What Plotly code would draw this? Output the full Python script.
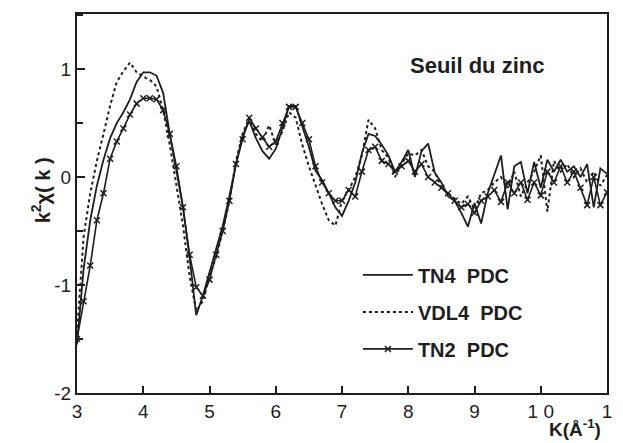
import plotly.graph_objects as go

# k grid (Å^-1)
K = [3.0, 3.1, 3.2, 3.3, 3.4, 3.5, 3.6, 3.7, 3.8, 3.9,
     4.0, 4.1, 4.2, 4.3, 4.4, 4.5, 4.6, 4.7, 4.8, 4.9,
     5.0, 5.1, 5.2, 5.3, 5.4, 5.5, 5.6, 5.7, 5.8, 5.9,
     6.0, 6.1, 6.2, 6.3, 6.4, 6.5, 6.6, 6.7, 6.8, 6.9,
     7.0, 7.1, 7.2, 7.3, 7.4, 7.5, 7.6, 7.7, 7.8, 7.9,
     8.0, 8.1, 8.2, 8.3, 8.4, 8.5, 8.6, 8.7, 8.8, 8.9,
     9.0, 9.1, 9.2, 9.3, 9.4, 9.5, 9.6, 9.7, 9.8, 9.9,
     10.0, 10.1, 10.2, 10.3, 10.4, 10.5, 10.6, 10.7, 10.8, 10.9,
     11.0]

TN4 = [-1.55, -0.85, -0.40, -0.08, 0.16, 0.36, 0.50, 0.60, 0.72, 0.88,
       0.97, 0.97, 0.94, 0.78, 0.40, 0.05, -0.28, -0.75, -1.28, -1.10,
       -0.88, -0.68, -0.45, -0.18, 0.12, 0.38, 0.52, 0.36, 0.24, 0.17,
       0.26, 0.45, 0.66, 0.66, 0.48, 0.28, 0.06, -0.03, -0.15, -0.28,
       -0.36, -0.22, -0.05, 0.22, 0.40, 0.38, 0.30, 0.20, 0.05, 0.14,
       0.25, 0.00, 0.24, 0.31, 0.04, -0.05, -0.18, -0.22, -0.33, -0.46,
       -0.24, -0.43, -0.15, 0.02, 0.20, -0.30, 0.10, 0.14, -0.15, 0.14,
       -0.10, 0.16, 0.05, 0.16, 0.05, 0.10, 0.00, 0.12, -0.28, 0.08,
       0.03]

VDL4 = [-1.45, -0.55, -0.15, 0.15, 0.40, 0.66, 0.88, 0.98, 1.06, 0.97,
        0.93, 0.90, 0.84, 0.62, 0.30, -0.06, -0.45, -0.92, -1.24, -1.15,
        -0.92, -0.74, -0.50, -0.22, 0.15, 0.40, 0.55, 0.40, 0.33, 0.48,
        0.30, 0.42, 0.60, 0.55, 0.30, 0.10, -0.08, -0.25, -0.40, -0.45,
        -0.22, -0.12, 0.00, 0.20, 0.53, 0.45, 0.25, 0.18, 0.00, 0.12,
        0.22, 0.20, 0.25, 0.10, 0.05, -0.10, -0.15, -0.20, -0.25, -0.18,
        -0.30, -0.15, -0.12, -0.05, 0.00, -0.10, 0.05, -0.18, -0.05, 0.05,
        0.20, -0.32, 0.15, 0.05, 0.12, 0.00, 0.08, -0.05, 0.05, -0.08,
        0.02]

TN2 = [-1.50, -1.15, -0.82, -0.40, -0.15, 0.17, 0.33, 0.45, 0.58, 0.68,
       0.73, 0.73, 0.72, 0.62, 0.40, 0.10, -0.28, -0.72, -1.02, -1.10,
       -0.95, -0.72, -0.50, -0.22, 0.12, 0.35, 0.55, 0.45, 0.37, 0.28,
       0.33, 0.50, 0.65, 0.65, 0.50, 0.35, 0.10, -0.05, -0.15, -0.22,
       -0.22, -0.12, -0.18, 0.05, 0.25, 0.28, 0.15, 0.12, 0.05, 0.10,
       0.15, 0.05, 0.12, 0.00, -0.05, -0.10, -0.15, -0.22, -0.28, -0.25,
       -0.33, -0.22, -0.18, -0.12, -0.23, -0.05, -0.15, -0.05, -0.21, -0.05,
       -0.17, 0.05, -0.05, 0.10, -0.05, 0.05, -0.10, -0.26, 0.00, -0.26,
       -0.14]

X_TICKS = [3, 4, 5, 6, 7, 8, 9, 10, 11]
X_TICKTEXT = ["3", "4", "5", "6", "7", "8", "9", "1 0", "1"]
Y_TICKS = [-2, -1, 0, 1]
Y_TICKTEXT = ["-2", "-1", "0", "1"]

INK = "#1e1e1e"
FONT = "Liberation Sans, Arial, sans-serif"

fig = go.Figure()
fig.add_trace(go.Scatter(x=K, y=TN4, mode="lines", name="TN4  PDC",
                         legendgroup="a",
                         line=dict(color=INK, width=1.8)))
fig.add_trace(go.Scatter(x=K, y=VDL4, mode="lines", name="VDL4  PDC",
                         legendgroup="b",
                         line=dict(color=INK, width=2, dash="dot")))
fig.add_trace(go.Scatter(x=K, y=TN2, mode="lines+markers", name="TN2  PDC",
                         legendgroup="c",
                         line=dict(color=INK, width=1.6),
                         marker=dict(symbol="x-thin", size=6, color=INK,
                                     line=dict(color=INK, width=1.5))))

fig.update_layout(
    width=623, height=443,
    margin=dict(l=77, r=11, t=14, b=50),
    paper_bgcolor="white", plot_bgcolor="white",
    font=dict(family=FONT, color=INK),
    showlegend=True,
    legend=dict(x=0.53, y=0.363, xanchor="left", yanchor="top",
                bgcolor="rgba(0,0,0,0)", borderwidth=0,
                font=dict(family=FONT, size=20, color=INK, weight="bold"),
                tracegroupgap=8, itemwidth=50),
    xaxis=dict(range=[3, 11], tickmode="array", tickvals=X_TICKS,
               ticktext=X_TICKTEXT, ticks="inside", ticklen=7, tickwidth=2,
               tickcolor=INK, showline=True, linewidth=2, linecolor=INK,
               mirror=True, showgrid=False, zeroline=False,
               tickfont=dict(size=19, family=FONT, color=INK)),
    yaxis=dict(range=[-2, 1.51], tickmode="array", tickvals=Y_TICKS,
               ticktext=Y_TICKTEXT, ticks="inside", ticklen=8, tickwidth=2,
               tickcolor=INK, showline=True, linewidth=2, linecolor=INK,
               mirror=True, showgrid=False, zeroline=False,
               tickfont=dict(size=19, family=FONT, color=INK),
               minor=dict(dtick=0.5, tick0=0, ticks="inside", ticklen=6,
                          tickwidth=1.5, tickcolor=INK)),
    annotations=[
        dict(text="Seuil du zinc", xref="paper", yref="paper",
             x=(481 - 77) / 535, y=(393 - 65) / 379,
             xanchor="center", yanchor="middle", showarrow=False,
             font=dict(family=FONT, size=22, color=INK, weight="bold")),
        dict(text="K(Å<sup>-1</sup>)", xref="paper", yref="paper",
             x=(580 - 77) / 535, y=(393 - 428) / 379,
             xanchor="center", yanchor="middle", showarrow=False,
             font=dict(family=FONT, size=19, color=INK, weight="bold")),
        dict(text="k<sup>2</sup>χ( k )", xref="paper", yref="paper",
             x=(40 - 77) / 535, y=(393 - 190) / 379, textangle=-90,
             xanchor="center", yanchor="middle", showarrow=False,
             font=dict(family=FONT, size=20, color=INK, weight="bold")),
    ],
)

fig.write_html(
    "out.html",
    config={"displayModeBar": False},
    post_script="document.body.style.margin='0px';"
                "document.body.style.overflow='hidden';",
)
